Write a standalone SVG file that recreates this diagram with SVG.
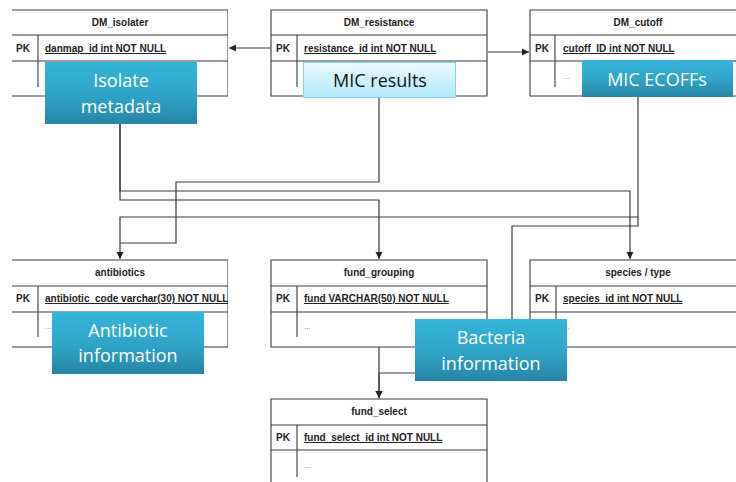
<svg xmlns="http://www.w3.org/2000/svg" width="736" height="482" viewBox="0 0 736 482">
<defs>
<style>
.tb{fill:#fff;stroke:none}
.bd{fill:none;stroke:#3a3a3a;stroke-width:1.1}
.hd{font-family:"Liberation Sans",Arial,sans-serif;font-size:10px;font-weight:bold;fill:#222;text-anchor:middle}
.pk{font-family:"Liberation Sans",Arial,sans-serif;font-size:10px;font-weight:bold;fill:#222}
.fd{font-family:"Liberation Sans",Arial,sans-serif;font-size:10px;font-weight:bold;fill:#222;text-decoration:underline}
.dt{font-family:"Liberation Sans",Arial,sans-serif;font-size:8px;fill:#777}
.cn{fill:none;stroke:#3a3a3a;stroke-width:1.2}
.cw{font-family:"Open Sans","Noto Sans",sans-serif;font-size:18px;fill:#fff;text-anchor:middle}
.ck{font-family:"Open Sans","Noto Sans",sans-serif;font-size:18px;fill:#111;text-anchor:middle}
</style>
<linearGradient id="blue" x1="0" y1="0" x2="0" y2="1">
<stop offset="0" stop-color="#36b5da"/>
<stop offset="0.5" stop-color="#30a6c9"/>
<stop offset="1" stop-color="#2685a5"/>
</linearGradient>
<linearGradient id="light" x1="0" y1="0" x2="0" y2="1">
<stop offset="0" stop-color="#ecfaff"/>
<stop offset="1" stop-color="#b3e8f9"/>
</linearGradient>
<marker id="arr" markerWidth="8" markerHeight="8" refX="7" refY="4" orient="auto" markerUnits="userSpaceOnUse">
<path d="M0,0.5 L7,4 L0,7.5 z" fill="#222"/>
</marker>
<clipPath id="clipL"><rect x="0" y="0" width="228" height="482"/></clipPath>
</defs>

<g id="connectors">
<path class="cn" d="M271,48 H229" marker-end="url(#arr)"/>
<path class="cn" d="M488,52 H529" marker-end="url(#arr)"/>
<path class="cn" d="M120,124 V191 H630 V259" marker-end="url(#arr)"/>
<path class="cn" d="M120,124 V200 H379 V259" marker-end="url(#arr)"/>
<path class="cn" d="M379,98 V182 H176 V243 H120 V259" marker-end="url(#arr)"/>
<path class="cn" d="M638,97 V217 H120 V243"/>
<path class="cn" d="M638,217 V226 H512 V373 H379 V398" marker-end="url(#arr)"/>
<path class="cn" d="M379,347 V398" marker-end="url(#arr)"/>
</g>

<g id="DM_isolater" clip-path="url(#clipL)">
<rect class="tb" x="12" y="10" width="216" height="86"/>
<path class="bd" d="M12,10 H228 V96 H12 M12,35 H228 M12,61 H228 M38,35 V87"/>
<text class="hd" x="120" y="26">DM_isolater</text>
<text class="pk" x="16" y="52">PK</text>
<text class="fd" x="45" y="52">danmap_id int NOT NULL</text>
<text class="dt" x="45" y="79">...</text>
</g>

<g id="DM_resistance">
<rect class="tb" x="271" y="10" width="216" height="86"/>
<path class="bd" d="M271,10 H487 V96 H271 Z M271,35 H487 M271,61 H487 M297,35 V87"/>
<text class="hd" x="379" y="26">DM_resistance</text>
<text class="pk" x="276" y="52">PK</text>
<text class="fd" x="304" y="52">resistance_id int NOT NULL</text>
<text class="dt" x="304" y="79">...</text>
</g>

<g id="DM_cutoff">
<rect class="tb" x="530" y="10" width="216" height="86"/>
<path class="bd" d="M746,10 H530 V96 H746 M530,35 H746 M530,61 H746 M555,35 V87"/>
<text class="hd" x="638" y="26">DM_cutoff</text>
<text class="pk" x="535" y="52">PK</text>
<text class="fd" x="563" y="52">cutoff_ID int NOT NULL</text>
<text class="dt" x="563" y="79">...</text>
</g>

<g id="antibiotics" clip-path="url(#clipL)">
<rect class="tb" x="12" y="260" width="216" height="87"/>
<path class="bd" d="M12,260 H228 V347 H12 M12,286 H228 M12,312 H228 M38,286 V337"/>
<text class="hd" x="120" y="276">antibiotics</text>
<text class="pk" x="16" y="302">PK</text>
<text class="fd" x="45" y="302">antibiotic_code varchar(30) NOT NULL</text>
<text class="dt" x="45" y="329">...</text>
</g>

<g id="fund_grouping">
<rect class="tb" x="271" y="260" width="216" height="87"/>
<path class="bd" d="M271,260 H487 V347 H271 Z M271,286 H487 M271,312 H487 M297,286 V337"/>
<text class="hd" x="379" y="276">fund_grouping</text>
<text class="pk" x="276" y="302">PK</text>
<text class="fd" x="304" y="302">fund VARCHAR(50) NOT NULL</text>
<text class="dt" x="304" y="329">...</text>
</g>

<g id="species_type">
<rect class="tb" x="530" y="260" width="216" height="87"/>
<path class="bd" d="M746,260 H530 V347 H746 M530,286 H746 M530,312 H746 M556,286 V337"/>
<text class="hd" x="638" y="276">species / type</text>
<text class="pk" x="535" y="302">PK</text>
<text class="fd" x="563" y="302">species_id int NOT NULL</text>
<text class="dt" x="563" y="329">...</text>
</g>

<g id="fund_select">
<rect class="tb" x="271" y="399" width="216" height="90"/>
<path class="bd" d="M271,490 V399 H487 V490 M271,425 H487 M271,450 H487 M297,425 V477"/>
<text class="hd" x="379" y="415">fund_select</text>
<text class="pk" x="276" y="441">PK</text>
<text class="fd" x="304" y="441">fund_select_id int NOT NULL</text>
<text class="dt" x="304" y="468">...</text>
</g>

<g id="Isolate_metadata">
<rect x="45" y="62" width="152" height="62" fill="url(#blue)"/>
<text class="cw" x="121" y="87">Isolate</text>
<text class="cw" x="121" y="113">metadata</text>
</g>

<g id="MIC_results">
<rect x="303.5" y="62.5" width="152" height="35" fill="url(#light)" stroke="#86d3ea" stroke-width="1"/>
<text class="ck" x="380" y="87">MIC results</text>
</g>

<g id="MIC_ECOFFs">
<rect x="582" y="60" width="151" height="37" fill="url(#blue)"/>
<text class="cw" x="657" y="86">MIC ECOFFs</text>
</g>

<g id="Antibiotic_information">
<rect x="52" y="312" width="152" height="62" fill="url(#blue)"/>
<text class="cw" x="128" y="337">Antibiotic</text>
<text class="cw" x="128" y="362">information</text>
</g>

<g id="Bacteria_information">
<rect x="415" y="319" width="152" height="62" fill="url(#blue)"/>
<text class="cw" x="491" y="344">Bacteria</text>
<text class="cw" x="491" y="370">information</text>
</g>
</svg>
